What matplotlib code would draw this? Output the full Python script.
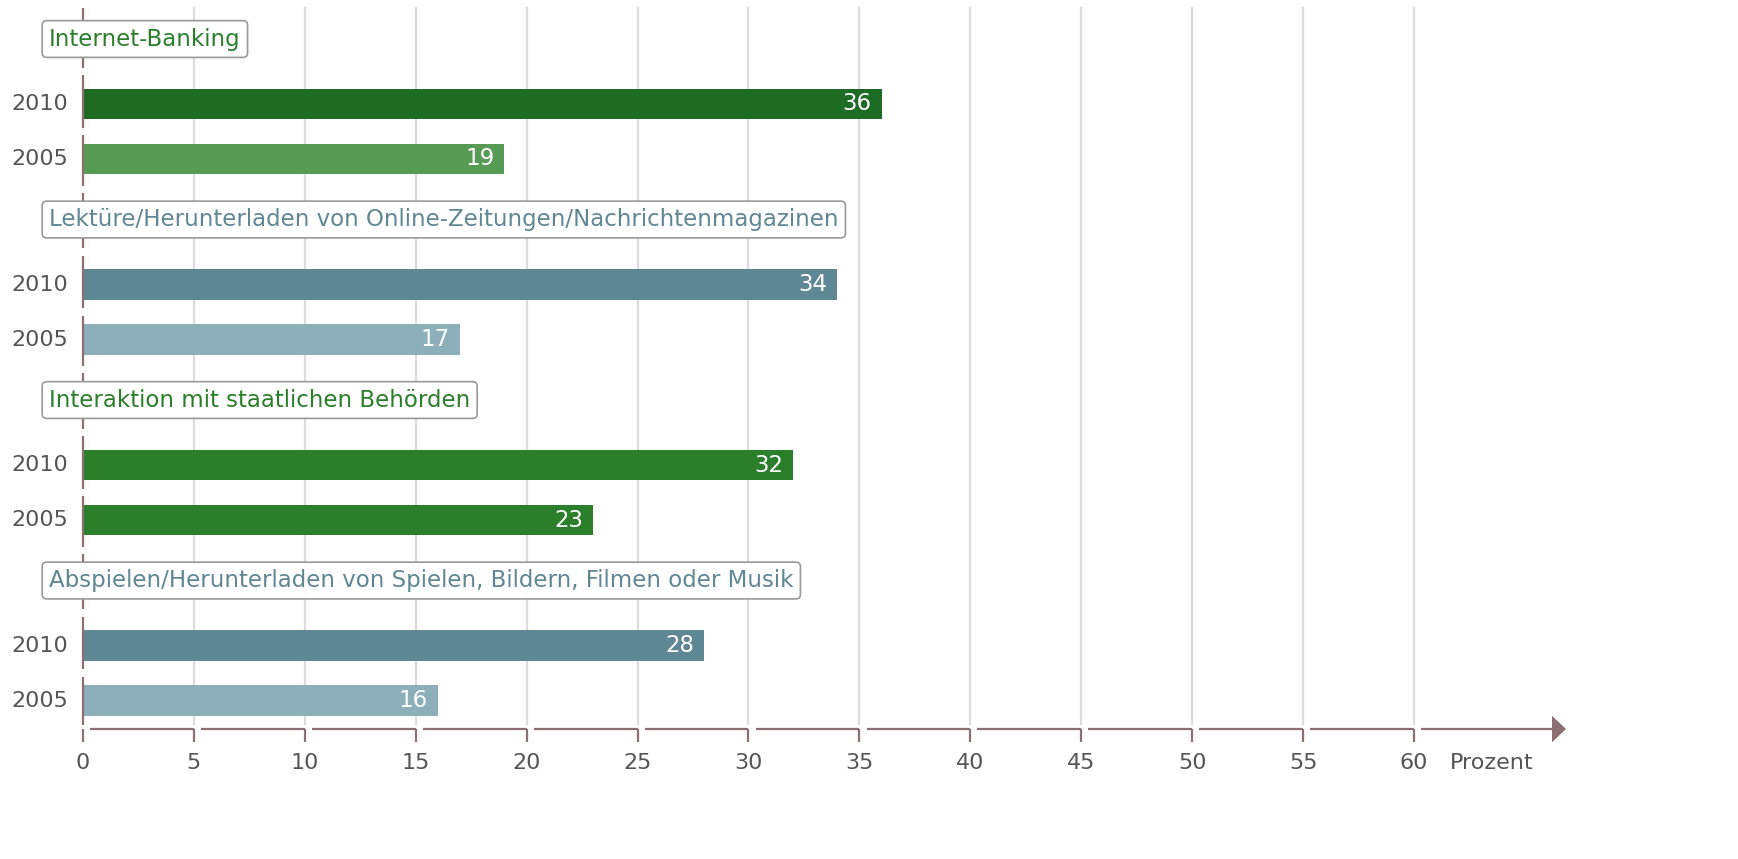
import numpy as np
import matplotlib.pyplot as plt

categories = ['Internet-Banking',
              'Lektüre/Herunterladen von Online-Zeitungen/Nachrichtenmagazinen',
              'Interaktion mit staatlichen Behörden',
              'Abspielen/Herunterladen von Spielen, Bildern, Filmen oder Musik']
values_2010 = [36, 34, 32, 28]
values_2005 = [19, 17, 23, 16]
years = ['2010', '2005']
x_ticks = list(range(0, 65, 5))
unit_label = 'Prozent'

colors_2010 = ['#1e6b26', '#5f8794', '#2b7f2b', '#5f8794']
colors_2005 = ['#569a55', '#8cafba', '#2b7f2b', '#8cafba']
label_colors = ['#2b7f2b', '#5f8794', '#2b7f2b', '#5f8794']

axis_col = '#8c6e73'
grid_col = '#dcdcdc'
text_col = '#555555'

px_x = 22.183   # pixels per percent
px_y = 60.17    # pixels per slot unit

fig = plt.figure(figsize=(17.38, 8.59), dpi=100)
ax = fig.add_axes([0, 0, 1, 1])
ax.set_xlim(-83 / px_x, (1738 - 83) / px_x)
ax.set_ylim((859 - 104) / px_y, -104 / px_y)
ax.axis('off')

top = -1.6
axis_y = (729 - 104) / px_y

# gridlines
for t in x_ticks[1:]:
    ax.plot([t, t], [top, axis_y - 0.08], color=grid_col, lw=1.6, zorder=0)

# bars and labels
slot_centers = []
for g, cat in enumerate(categories):
    base = 3 * g
    y_lab = base - 1.08
    y10 = base
    y05 = base + 0.914
    slot_centers += [y_lab, y10, y05]
    ax.barh(y10, values_2010[g], height=0.5, color=colors_2010[g], zorder=2)
    ax.barh(y05, values_2005[g], height=0.5, color=colors_2005[g], zorder=2)
    for y, v in [(y10, values_2010[g]), (y05, values_2005[g])]:
        ax.text(v - 0.45, y, str(v), ha='right', va='center', color='white',
                fontsize=16.5, zorder=3)
    for y, yr in [(y10, years[0]), (y05, years[1])]:
        ax.text(-0.68, y, yr, ha='right', va='center', color=text_col, fontsize=16)
    ax.text(-1.53, y_lab, cat, ha='left', va='center', color=label_colors[g],
            fontsize=16.5, zorder=4,
            bbox=dict(boxstyle='round,pad=0.3,rounding_size=0.2', fc='white',
                      ec='#999999', lw=1.2))

# segmented y axis
bounds = [top] + [(a + b) / 2 for a, b in zip(slot_centers[:-1], slot_centers[1:])] + [axis_y]
for i in range(len(bounds) - 1):
    y0 = bounds[i] + (0.06 if i > 0 else 0)
    y1 = bounds[i + 1] - 0.06
    ax.plot([0, 0], [y0, y1], color=axis_col, lw=1.6, zorder=3, solid_capstyle='butt')

# segmented x axis with ticks
gap = 0.32
for i, t in enumerate(x_ticks):
    ax.plot([t, t], [axis_y, axis_y + 0.22], color=axis_col, lw=1.6, solid_capstyle='butt')
    if i > 0:
        ax.plot([x_ticks[i - 1] + gap, t], [axis_y, axis_y], color=axis_col, lw=1.6,
                solid_capstyle='butt')
    ax.text(t, axis_y + 0.57, str(t), ha='center', va='center', color=text_col, fontsize=16)

arrow_end = (1552 - 83) / px_x
tip = (1566 - 83) / px_x
ax.plot([x_ticks[-1] + gap, arrow_end], [axis_y, axis_y], color=axis_col, lw=1.6,
        solid_capstyle='butt')
ax.fill([arrow_end, tip, arrow_end], [axis_y - 0.22, axis_y, axis_y + 0.22],
        color=axis_col, lw=0)
ax.text(63.5, axis_y + 0.57, unit_label, ha='center', va='center', color=text_col,
        fontsize=16)

fig.savefig('out.png', dpi=100)
